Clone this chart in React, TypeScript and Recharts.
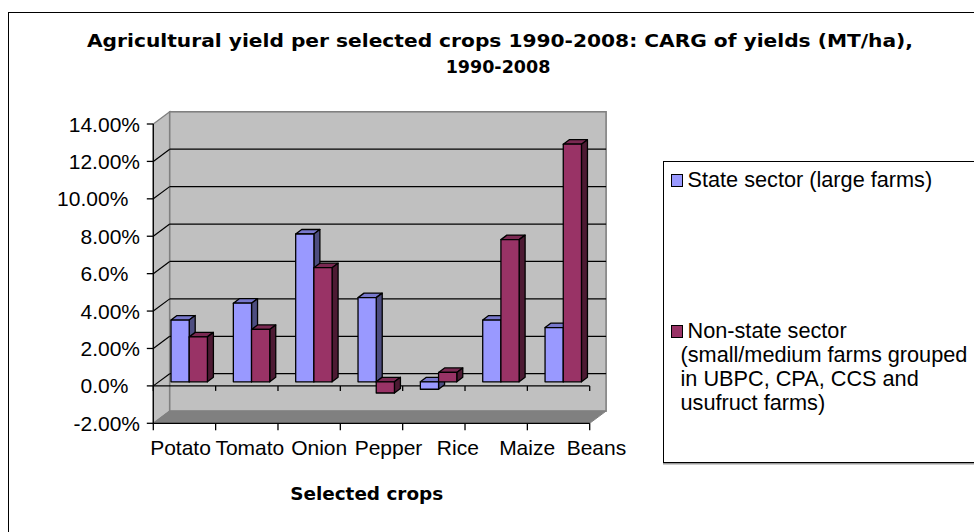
import React from 'react';
import {
  BarChart,
  Bar,
  XAxis,
  YAxis,
  CartesianGrid,
  ReferenceArea,
  ReferenceLine,
  Legend,
} from 'recharts';

// ---------- data ----------
const categories = ['Potato', 'Tomato', 'Onion', 'Pepper', 'Rice', 'Maize', 'Beans'];
const stateSector = [3.3, 4.2, 7.9, 4.5, -0.4, 3.3, 2.9];
const nonStateSector = [2.4, 2.8, 6.1, -0.6, 0.5, 7.6, 12.7];
const yTicks = [-2, 0, 2, 4, 6, 8, 10, 12, 14];
const yTickLabels = [
  '-2.00%',
  '0.0%\u00a0\u00a0',
  '2.00%',
  '4.00%',
  '6.0%\u00a0\u00a0',
  '8.00%',
  '10.00%\u00a0\u00a0',
  '12.00%',
  '14.00%',
];
const gridValues = [0, 2, 4, 6, 8, 10, 12];
const seriesNames = [
  'State sector (large farms)',
  'Non-state sector (small/medium farms grouped in UBPC, CPA, CCS and usufruct farms)',
];
const titleLines = [
  'Agricultural yield per selected crops 1990-2008: CARG of yields (MT/ha),',
  '1990-2008',
];
const xAxisTitle = 'Selected crops';

const data = categories.map((c, i) => ({
  crop: c,
  state: stateSector[i],
  nonState: nonStateSector[i],
}));

// ---------- style constants ----------
const WX = 16.4; // wall depth offset
const WY = -12.2;
const BX = 4.7; // bar front-face offset from front plane
const BY = -4.1;
const DX = 6; // bar depth
const DY = -4.5;
const AXIS_FONT = '"Liberation Sans", Arial, sans-serif';
const TITLE_FONT = '"DejaVu Sans", "Liberation Sans", sans-serif';

const STATE_COLORS = { front: '#9999FF', top: '#7878CC', side: '#4D4D80' };
const NON_STATE_COLORS = { front: '#993366', top: '#7A2952', side: '#4D1A33' };

const make3DBar = (c: { front: string; top: string; side: string }) => (props: any) => {
  const { x, y, width, height } = props;
  if (x == null || y == null) return <g />;
  const a = Math.min(y, y + height);
  const b = Math.max(y, y + height);
  const fx = x + BX;
  const t = a + BY;
  const bt = b + BY;
  const w = width;
  return (
    <g stroke="#000" strokeWidth={1.3} strokeLinejoin="round">
      <polygon points={`${fx},${t} ${fx + DX},${t + DY} ${fx + w + DX},${t + DY} ${fx + w},${t}`} fill={c.top} />
      <polygon
        points={`${fx + w},${t} ${fx + w + DX},${t + DY} ${fx + w + DX},${bt + DY} ${fx + w},${bt}`}
        fill={c.side}
      />
      <rect x={fx} y={t} width={w} height={Math.max(bt - t, 0.5)} fill={c.front} />
    </g>
  );
};

const WallShape = (props: any) => {
  const { x, y, width, height } = props;
  if (x == null) return <g />;
  const L = x;
  const R = x + width;
  const T = y;
  const B = y + height;
  return (
    <g>
      <polygon
        points={`${L},${T} ${L + WX},${T + WY} ${L + WX},${B + WY} ${L},${B}`}
        fill="#C0C0C0"
        stroke="#808080"
        strokeWidth={1.3}
      />
      <rect x={L + WX} y={T + WY} width={width} height={height} fill="#C0C0C0" stroke="#808080" strokeWidth={1.6} />
      <polygon
        points={`${L},${B} ${L + WX},${B + WY} ${R + WX},${B + WY} ${R},${B}`}
        fill="#808080"
        stroke="#808080"
        strokeWidth={1}
      />
    </g>
  );
};

const gridLine = (p: any) => {
  const { x1, y1, x2 } = p;
  return (
    <g key={`g-${y1}`}>
      <line x1={x1} y1={y1} x2={x1 + WX} y2={y1 + WY} stroke="#000" strokeWidth={1.2} />
      <line x1={x1 + WX} y1={y1 + WY} x2={x2 + WX} y2={y1 + WY} stroke="#000" strokeWidth={1.2} />
    </g>
  );
};

const axisLineWithTicks = (tickLen: number) => (p: any) => {
  const { x1, y1, x2 } = p;
  const n = categories.length;
  const ticks = [];
  for (let i = 0; i <= n; i++) {
    const bx = x1 + (i * (x2 - x1)) / n;
    ticks.push(<line key={i} x1={bx} y1={y1} x2={bx} y2={y1 + tickLen} stroke="#000" strokeWidth={1.3} />);
  }
  return (
    <g>
      <line x1={x1} y1={y1} x2={x2} y2={y1} stroke="#000" strokeWidth={1.3} />
      {ticks}
    </g>
  );
};

const LABEL_SPREAD = 1.112;
const LABEL_SHIFT = 17;

const XTick = (props: any) => {
  const { x, y, payload } = props;
  const cx = 371.5;
  const nx = cx + LABEL_SHIFT + (x - cx) * LABEL_SPREAD;
  return (
    <text x={nx} y={y + 23.7} textAnchor="middle" fontFamily={AXIS_FONT} fontSize={21} fill="#000">
      {payload.value}
    </text>
  );
};

const YTick = (props: any) => {
  const { x, y, payload } = props;
  const idx = yTicks.indexOf(payload.value);
  const label = idx >= 0 ? yTickLabels[idx] : String(payload.value);
  return (
    <text x={x} y={y + 7.5} textAnchor="end" fontFamily={AXIS_FONT} fontSize={21} fill="#000">
      {label}
    </text>
  );
};

const ITEM_TOPS = [6.2, 157.2];

const LegendContent = (props: any) => {
  const raw = props.payload || [];
  const payload = [...raw].sort(
    (a: any, b: any) => seriesNames.indexOf(a.value) - seriesNames.indexOf(b.value)
  );
  return (
    <div
      style={{
        position: 'relative',
        width: 340,
        height: 302,
        border: '1.5px solid #000',
        boxShadow: '0 1.5px 0 #9a9a9a',
        boxSizing: 'border-box',
        background: '#fff',
      }}
    >
      {payload.map((p: any, i: number) => (
        <div
          key={i}
          style={{
            position: 'absolute',
            left: 16.5,
            top: ITEM_TOPS[i],
            width: 293,
            textIndent: 7,
            lineHeight: '24px',
            fontSize: 21.7,
            fontFamily: AXIS_FONT,
            color: '#000',
            textAlign: 'left',
          }}
        >
          <span
            style={{
              position: 'absolute',
              left: -10,
              top: 6.3,
              width: 12.5,
              height: 12.5,
              boxSizing: 'border-box',
              border: '1.3px solid #000',
              background: p.color,
            }}
          />
          {p.value}
        </div>
      ))}
    </div>
  );
};

export default function App() {
  return (
    <div
      style={{
        position: 'fixed',
        left: 0,
        top: 0,
        width: 974,
        height: 532,
        overflow: 'hidden',
        background: '#fff',
      }}
    >
      <div
        style={{
          position: 'absolute',
          left: 8,
          top: 12,
          width: 1100,
          height: 700,
          border: '1.5px solid #000',
        }}
      />
      <div style={{ position: 'absolute', left: 0, top: 0 }}>
        <BarChart
          width={974}
          height={532}
          data={data}
          margin={{ top: 124, right: 384.3, bottom: 78.7, left: 0 }}
          barGap={0}
          barSize={18.2}
        >
          <ReferenceArea y1={-2} y2={14} shape={WallShape} ifOverflow="visible" zIndex={-200} />
          <CartesianGrid vertical={false} horizontalValues={gridValues} horizontal={gridLine} />
          <ReferenceLine y={-2} shape={axisLineWithTicks(7)} ifOverflow="visible" zIndex={-50} />
          <ReferenceLine y={0} shape={axisLineWithTicks(5)} ifOverflow="visible" zIndex={-50} />
          <XAxis
            dataKey="crop"
            height={30}
            axisLine={false}
            tickLine={false}
            interval={0}
            tick={<XTick />}
          />
          <YAxis
            type="number"
            domain={[-2, 14]}
            ticks={yTicks}
            interval={0}
            width={153.3}
            tickSize={6.5}
            tickMargin={6.8}
            axisLine={{ stroke: '#000', strokeWidth: 1.3 }}
            tickLine={{ stroke: '#000', strokeWidth: 1.3 }}
            tick={<YTick />}
            allowDataOverflow
          />
          <Legend
            layout="horizontal"
            verticalAlign="middle"
            align="center"
            content={<LegendContent />}
            wrapperStyle={{ position: 'absolute', left: 663, top: 161, width: 340, height: 302 }}
          />
          <Bar
            dataKey="state"
            name={seriesNames[0]}
            fill={STATE_COLORS.front}
            shape={make3DBar(STATE_COLORS)}
            isAnimationActive={false}
          />
          <Bar
            dataKey="nonState"
            name={seriesNames[1]}
            fill={NON_STATE_COLORS.front}
            shape={make3DBar(NON_STATE_COLORS)}
            isAnimationActive={false}
          />
        </BarChart>
      </div>
      <svg
        width={974}
        height={532}
        style={{ position: 'absolute', left: 0, top: 0, pointerEvents: 'none' }}
      >
        <text
          x={500}
          y={47.3}
          textAnchor="middle"
          fontFamily={TITLE_FONT}
          fontWeight="bold"
          fontSize={17.5}
          fill="#000"
          textLength={826}
          lengthAdjust="spacingAndGlyphs"
        >
          {titleLines[0]}
        </text>
        <text x={498} y={72.5} textAnchor="middle" fontFamily={TITLE_FONT} fontWeight="bold" fontSize={17.5} fill="#000">
          {titleLines[1]}
        </text>
        <text
          x={366.7}
          y={500}
          textAnchor="middle"
          fontFamily={TITLE_FONT}
          fontWeight="bold"
          fontSize={18}
          fill="#000"
          textLength={153}
          lengthAdjust="spacingAndGlyphs"
        >
          {xAxisTitle}
        </text>
      </svg>
    </div>
  );
}
